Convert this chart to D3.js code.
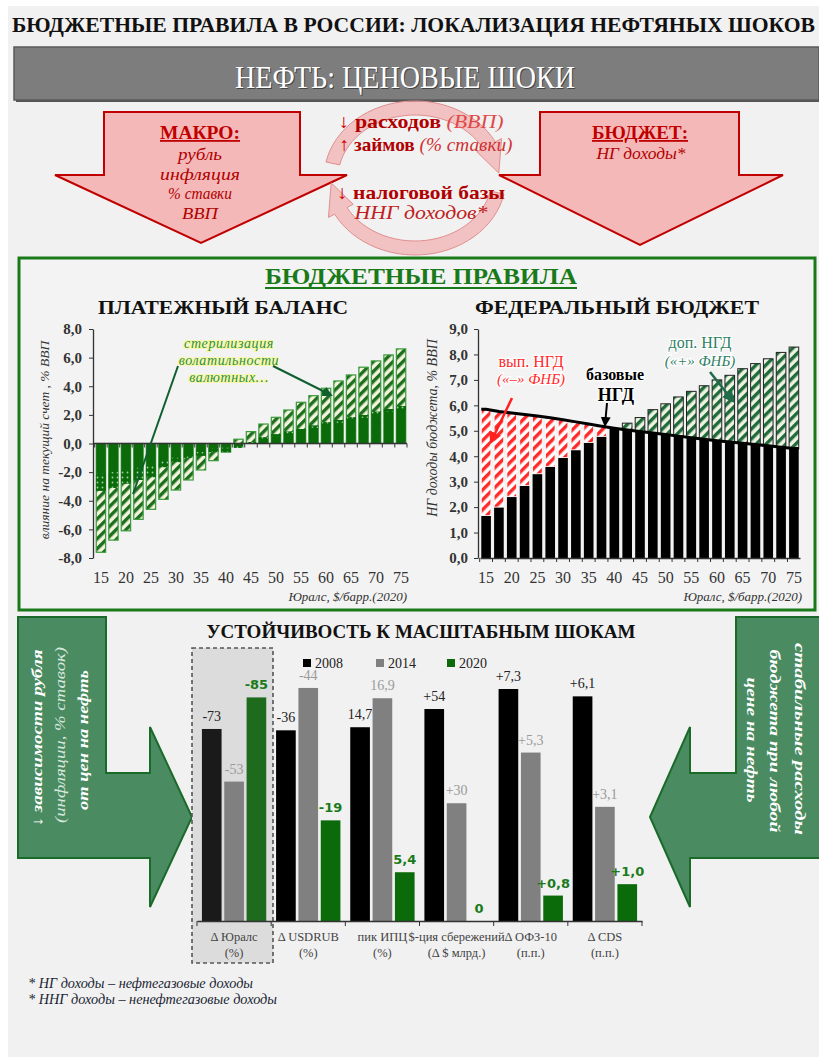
<!DOCTYPE html>
<html><head><meta charset="utf-8">
<script src="https://cdn.jsdelivr.net/npm/d3@7"></script>
<style>body{margin:0;background:#fff}svg{display:block}</style>
</head><body><svg id="c" width="819" height="1057"></svg>
<script>
// ---------------- DATA ----------------
const oilPrices = [15,17.5,20,22.5,25,27.5,30,32.5,35,37.5,40,42.5,45,47.5,50,52.5,55,57.5,60,62.5,65,67.5,70,72.5,75];
const oilTickLabels = [15,20,25,30,35,40,45,50,55,60,65,70,75];
// Платежный баланс (% ВВП)
const bopTotal  = [-7.6,-6.75,-6.1,-5.3,-4.6,-3.9,-3.25,-2.55,-1.85,-1.2,-0.6,0.3,0.83,1.36,1.83,2.34,2.88,3.34,3.86,4.37,4.79,5.33,5.77,6.19,6.61];
const bopSolid  = [-3.3,-3.1,-2.8,-2.55,-2.35,-1.65,-1.3,-1.0,-0.85,-0.6,-0.6,-0.3,0.1,0.43,0.64,0.83,1.01,1.25,1.48,1.64,1.83,1.99,2.22,2.41,2.62];
const bopDotted = [-2.1,-2.0,-1.85,-1.7,-1.5,-1.2,-1.0,-0.75,-0.6,-0.35,-0.3,0,0,0.3,0.5,0.7,0.9,1.1,1.3,1.45,1.65,1.8,2.0,2.2,2.35];
const bopTicks = [-8,-6,-4,-2,0,2,4,6,8];
// Федеральный бюджет (НГ доходы, % ВВП)
const budgetLine   = [5.85,5.76,5.70,5.64,5.58,5.51,5.43,5.35,5.27,5.18,5.10,5.03,4.97,4.91,4.85,4.79,4.73,4.67,4.61,4.56,4.51,4.46,4.41,4.35,4.30];
const budgetBase   = [1.67,2.00,2.41,2.85,3.31,3.60,3.95,4.25,4.54,4.78,5.10,5.03,4.97,4.91,4.85,4.79,4.73,4.67,4.61,4.56,4.51,4.46,4.41,4.35,4.30];
const budgetTotal  = [5.85,5.76,5.70,5.64,5.58,5.51,5.43,5.35,5.27,5.18,5.10,5.30,5.52,5.83,6.06,6.33,6.55,6.77,7.00,7.18,7.44,7.64,7.83,8.08,8.29];
const budgetTicks = [0,1,2,3,4,5,6,7,8,9];
// Устойчивость к масштабным шокам
const shockCategories = ["Δ Юралс","Δ USDRUB","пик ИПЦ","$-ция сбережений","Δ ОФЗ-10","Δ CDS"];
const shockUnits = ["(%)","(%)","(%)","(Δ $ млрд.)","(п.п.)","(п.п.)"];
const shockYears = ["2008","2014","2020"];
const shock2008 = [73,36,14.7,54,7.3,6.1];
const shock2014 = [53,44,16.9,30,5.3,3.1];
const shock2020 = [85,19,3.7,0,0.8,1.0];
const label2008 = ["-73","-36","14,7","+54","+7,3","+6,1"];
const label2014 = ["-53","-44","16,9","+30","+5,3","+3,1"];
const label2020 = ["-85","-19","5,4","0","+0,8","+1,0"];
const shockScaleMax = [88.2,43.8,17.6,59.1,7.3,6.3];

// ---------------- SETUP ----------------
const SERIF = "Liberation Serif";
const svg = d3.select("#c");
const defs = svg.append("defs");
function stripePattern(id, bg, fg, size, w){
  const p = defs.append("pattern").attr("id",id).attr("patternUnits","userSpaceOnUse")
    .attr("width",size).attr("height",size).attr("patternTransform","rotate(45)");
  p.append("rect").attr("width",size).attr("height",size).attr("fill",bg);
  p.append("rect").attr("width",w).attr("height",size).attr("fill",fg);
}
stripePattern("hG","#f3f3de","#1d6e1d",7,3.4);
stripePattern("hR","#ffffff","#ff2a2a",7,3.4);
stripePattern("hG2","#eef2e2","#1f6b3a",7,3.4);
const dp = defs.append("pattern").attr("id","dots").attr("patternUnits","userSpaceOnUse").attr("width",5).attr("height",5);
dp.append("rect").attr("width",5).attr("height",5).attr("fill","#0b6b0b");
dp.append("circle").attr("cx",2.5).attr("cy",2.5).attr("r",0.9).attr("fill","#9fd09f");
function marker(id,color){
  defs.append("marker").attr("id",id).attr("viewBox","0 0 10 10").attr("refX",8).attr("refY",5)
   .attr("markerWidth",5).attr("markerHeight",5).attr("orient","auto")
   .append("path").attr("d","M0,0L10,5L0,10z").attr("fill",color);
}
marker("mG","#0f5f2f"); marker("mR","#ff2020"); marker("mK","#000"); marker("mT","#1f6b4a");

// background
svg.append("rect").attr("width",819).attr("height",1057).attr("fill","#fff");
svg.append("rect").attr("x",8).attr("y",6).attr("width",811).attr("height",1051).attr("fill","#f1f1f1");

// main title
svg.append("text").attr("x",12).attr("y",32).attr("font-family",SERIF).attr("font-weight","bold")
  .attr("font-size",21).attr("fill","#111").attr("textLength",803).attr("lengthAdjust","spacingAndGlyphs")
  .text("БЮДЖЕТНЫЕ ПРАВИЛА В РОССИИ: ЛОКАЛИЗАЦИЯ НЕФТЯНЫХ ШОКОВ");

// banner
svg.append("rect").attr("x",16).attr("y",49).attr("width",805).attr("height",53).attr("fill","#555");
svg.append("rect").attr("x",14).attr("y",47).attr("width",805).attr("height",53).attr("fill","#7d7d7d").attr("stroke","#5a5a5a").attr("stroke-width",1.5);
svg.append("text").attr("x",406).attr("y",89).attr("text-anchor","middle").attr("font-family",SERIF)
  .attr("font-size",31).attr("fill","#444").attr("textLength",340).attr("lengthAdjust","spacingAndGlyphs").text("НЕФТЬ: ЦЕНОВЫЕ ШОКИ");
svg.append("text").attr("x",405).attr("y",88).attr("text-anchor","middle").attr("font-family",SERIF)
  .attr("font-size",31).attr("fill","#fff").attr("textLength",340).attr("lengthAdjust","spacingAndGlyphs").text("НЕФТЬ: ЦЕНОВЫЕ ШОКИ");

// red arrows
const pinkFill = "#f5b8b8", darkRed = "#c00000";
svg.append("polygon").attr("points","104,112 300,112 300,175 347,175 201,243 55,175 104,175")
  .attr("fill",pinkFill).attr("stroke",darkRed).attr("stroke-width",2);
svg.append("polygon").attr("points","540,112 739,112 739,175 783,175 640,245 499,175 540,175")
  .attr("fill",pinkFill).attr("stroke",darkRed).attr("stroke-width",2);

// ring arrows
function ringArrow(cx,cy,rx,ry,a0,a1,w,hw,hl){
  const r = d=>d*Math.PI/180, pts=[];
  for(let i=0;i<=30;i++){const t=r(a0+(a1-a0)*i/30); pts.push([cx+(rx+w)*Math.cos(t), cy+(ry+w)*Math.sin(t)]);}
  const t1=r(a1), tt=r(a1+hl);
  pts.push([cx+(rx+hw)*Math.cos(t1), cy+(ry+hw)*Math.sin(t1)]);
  pts.push([cx+rx*Math.cos(tt), cy+ry*Math.sin(tt)]);
  pts.push([cx+(rx-hw)*Math.cos(t1), cy+(ry-hw)*Math.sin(t1)]);
  for(let i=30;i>=0;i--){const t=r(a0+(a1-a0)*i/30); pts.push([cx+(rx-w)*Math.cos(t), cy+(ry-w)*Math.sin(t)]);}
  svg.append("path").attr("d",d3.line()(pts)+"Z").attr("fill","#f2a9a9").attr("fill-opacity",0.65)
    .attr("stroke","#e08e8e").attr("stroke-width",1);
}
ringArrow(415,178,84,70,192,332,7,14,24);
ringArrow(415,178,84,70,12,152,7,14,24);

// center texts
function tline(x,y,parts,size,len){
  const t = svg.append("text").attr("x",x).attr("y",y).attr("text-anchor","middle").attr("font-family",SERIF).attr("font-size",size);
  if(len) t.attr("textLength",len).attr("lengthAdjust","spacingAndGlyphs");
  parts.forEach(p=>t.append("tspan").text(p[0]).attr("fill",p[1]).attr("font-weight",p[2]||"normal").attr("font-style",p[3]||"normal"));
  return t;
}
tline(421,128,[["↓","#d00000","bold"],[" расходов ","#b00000","bold"],["(ВВП)","#e04848","normal","italic"]],19,165);
tline(426,151,[["↑","#d00000","bold"],[" займов ","#b00000","bold"],["(% ставки)","#d03030","normal","italic"]],19,173);
tline(421,199,[["↓","#d00000","bold"],[" налоговой базы","#b00000","bold"]],19,168);
tline(421,219,[["ННГ доходов*","#c02020","normal","italic"]],19,133);

// MAKRO / BUDGET
svg.append("text").attr("x",200).attr("y",139).attr("text-anchor","middle").attr("font-family",SERIF)
  .attr("font-weight","bold").attr("font-size",18).attr("fill",darkRed).attr("text-decoration","underline")
  .attr("textLength",80).attr("lengthAdjust","spacingAndGlyphs").text("МАКРО:");
const macroItems = ["рубль","инфляция","% ставки","ВВП"], macroLen = [44,80,64,36];
macroItems.forEach((s,i)=>svg.append("text").attr("x",200).attr("y",160+i*19.5)
  .attr("text-anchor","middle").attr("font-family",SERIF).attr("font-style","italic").attr("font-size",16)
  .attr("textLength",macroLen[i]).attr("lengthAdjust","spacingAndGlyphs").attr("fill","#b00000").text(s));
svg.append("text").attr("x",640).attr("y",139).attr("text-anchor","middle").attr("font-family",SERIF)
  .attr("font-weight","bold").attr("font-size",18).attr("fill",darkRed).attr("text-decoration","underline")
  .attr("textLength",96).attr("lengthAdjust","spacingAndGlyphs").text("БЮДЖЕТ:");
svg.append("text").attr("x",641).attr("y",159).attr("text-anchor","middle").attr("font-family",SERIF)
  .attr("font-style","italic").attr("font-size",16).attr("textLength",89).attr("lengthAdjust","spacingAndGlyphs")
  .attr("fill","#b00000").text("НГ доходы*");

// ---------------- GREEN BOX ----------------
svg.append("rect").attr("x",19).attr("y",258).attr("width",796).attr("height",352).attr("fill","#f3f3f3")
  .attr("stroke","#1a7a1a").attr("stroke-width",3);
svg.append("text").attr("x",421).attr("y",284).attr("text-anchor","middle").attr("font-family",SERIF)
  .attr("font-weight","bold").attr("font-size",23).attr("fill","#1a7a1a").attr("textLength",312)
  .attr("lengthAdjust","spacingAndGlyphs").text("БЮДЖЕТНЫЕ ПРАВИЛА");
svg.append("line").attr("x1",265).attr("x2",577).attr("y1",288).attr("y2",288).attr("stroke","#1a7a1a").attr("stroke-width",2);

const fmt = v => v.toFixed(1).replace(".",",");
function chartTitle(x,y,len,s){
  svg.append("text").attr("x",x).attr("y",y).attr("text-anchor","middle").attr("font-family",SERIF)
   .attr("font-weight","bold").attr("font-size",19).attr("fill","#111").attr("textLength",len)
   .attr("lengthAdjust","spacingAndGlyphs").text(s);
}
function styleAxis(g,bold,size){
  g.selectAll("text").attr("font-family",SERIF).attr("font-size",size).attr("fill","#333").attr("font-weight",bold?"bold":"normal");
  g.selectAll("line").attr("stroke","#333");
  g.select(".domain").attr("stroke","#333").attr("stroke-width",1.3);
}

// ---------------- LEFT CHART ----------------
chartTitle(223,314,250,"ПЛАТЕЖНЫЙ БАЛАНС");
const xL = d3.scaleBand().domain(oilPrices).range([95,407]).paddingInner(0.25).paddingOuter(0.1);
const yL = d3.scaleLinear().domain([-8,8]).range([558,329]);
const gL = svg.append("g");
const rectV = (sel,x,bw,ys,a,b)=>sel.append("rect").attr("x",x).attr("width",bw)
   .attr("y",Math.min(ys(a),ys(b))).attr("height",Math.abs(ys(a)-ys(b)));
oilPrices.forEach((d,i)=>{
  const x = xL(d), bw = xL.bandwidth();
  rectV(gL,x,bw,yL,0,bopTotal[i]).attr("fill","url(#hG)").attr("stroke","#3a9a3a").attr("stroke-width",1.2);
  rectV(gL,x,bw,yL,0,bopSolid[i]).attr("fill","#0b6b0b");
  if(bopDotted[i]!==bopSolid[i]) rectV(gL,x,bw,yL,bopDotted[i],bopSolid[i]).attr("fill","url(#dots)");
});
// zero axis
gL.append("line").attr("x1",93).attr("x2",407).attr("y1",yL(0)).attr("y2",yL(0)).attr("stroke","#333").attr("stroke-width",1.5);
oilPrices.forEach(d=>{const xx = xL(d)-xL.step()*xL.paddingInner()/2;
  gL.append("line").attr("x1",xx).attr("x2",xx).attr("y1",yL(0)).attr("y2",yL(0)+4).attr("stroke","#333");});
gL.append("line").attr("x1",407).attr("x2",407).attr("y1",yL(0)).attr("y2",yL(0)+4).attr("stroke","#333");
const axL = svg.append("g").attr("transform","translate(93,0)")
  .call(d3.axisLeft(yL).tickValues(bopTicks).tickSize(4).tickSizeOuter(0).tickPadding(7).tickFormat(fmt));
styleAxis(axL,true,15);
const axLB = svg.append("g").attr("transform","translate(0,572)")
  .call(d3.axisBottom(xL).tickValues(oilTickLabels).tickSize(0).tickPadding(0));
axLB.select(".domain").remove(); styleAxis(axLB,false,16);
svg.append("text").attr("x",407).attr("y",601).attr("text-anchor","end").attr("font-family",SERIF)
  .attr("font-style","italic").attr("font-size",13).attr("fill","#333").text("Юралс, $/барр.(2020)");
svg.append("text").attr("transform","translate(49,440) rotate(-90)").attr("text-anchor","middle").attr("font-family",SERIF)
  .attr("font-style","italic").attr("font-size",13.5).attr("fill","#333").text("влияние на текущий счет , % ВВП");
// annotation
["стерилизация","волатильности","валютных…"].forEach((s,i)=>svg.append("text").attr("x",229).attr("y",348+i*17)
  .attr("text-anchor","middle").attr("font-family",SERIF).attr("font-style","italic").attr("font-size",14)
  .attr("letter-spacing",0.6).attr("fill","#2f8f4f").attr("stroke","#f8f8a0").attr("stroke-width",2.2)
  .attr("paint-order","stroke").text(s));
svg.append("line").attr("x1",178).attr("y1",366).attr("x2",133).attr("y2",494).attr("stroke","#0f5f2f").attr("stroke-width",2);
svg.append("line").attr("x1",273).attr("y1",366).attr("x2",331).attr("y2",395).attr("stroke","#0f5f2f").attr("stroke-width",2).attr("marker-end","url(#mG)");

// ---------------- RIGHT CHART ----------------
chartTitle(617,314,284,"ФЕДЕРАЛЬНЫЙ БЮДЖЕТ");
const xR = d3.scaleBand().domain(oilPrices).range([480,800]).paddingInner(0.25).paddingOuter(0.1);
const yR = d3.scaleLinear().domain([0,9]).range([558,329]);
const gR = svg.append("g");
oilPrices.forEach((d,i)=>{
  const x = xR(d), bw = xR.bandwidth();
  rectV(gR,x,bw,yR,0,budgetBase[i]).attr("fill","#000");
  if(budgetLine[i]>budgetBase[i]) rectV(gR,x,bw,yR,budgetBase[i],budgetLine[i]).attr("fill","url(#hR)").attr("stroke","#fff").attr("stroke-width",0.8);
  if(budgetTotal[i]>budgetLine[i]) rectV(gR,x,bw,yR,budgetLine[i],budgetTotal[i]).attr("fill","url(#hG2)").attr("stroke","#222").attr("stroke-width",1);
});
const linePts = oilPrices.map((d,i)=>[xR(d)+xR.bandwidth()/2, yR(budgetLine[i])]);
linePts.unshift([xR(oilPrices[0]), yR(budgetLine[0])]);
linePts.push([xR(oilPrices[oilPrices.length-1])+xR.bandwidth(), yR(budgetLine[budgetLine.length-1])]);
gR.append("path").attr("d",d3.line()(linePts)).attr("fill","none").attr("stroke","#000").attr("stroke-width",3);
const axRB0 = svg.append("g").attr("transform","translate(0,558)")
  .call(d3.axisBottom(xR).tickValues([]).tickSizeOuter(0));
styleAxis(axRB0,false,15);
oilPrices.forEach(d=>{const xx = xR(d)-xR.step()*xR.paddingInner()/2;
  gR.append("line").attr("x1",xx).attr("x2",xx).attr("y1",558).attr("y2",562).attr("stroke","#333");});
const axR = svg.append("g").attr("transform","translate(478,0)")
  .call(d3.axisLeft(yR).tickValues(budgetTicks).tickSize(4).tickSizeOuter(0).tickPadding(6).tickFormat(fmt));
styleAxis(axR,true,15);
const axRB = svg.append("g").attr("transform","translate(0,572)")
  .call(d3.axisBottom(xR).tickValues(oilTickLabels).tickSize(0).tickPadding(0));
axRB.select(".domain").remove(); styleAxis(axRB,false,16);
svg.append("text").attr("x",802).attr("y",601).attr("text-anchor","end").attr("font-family",SERIF)
  .attr("font-style","italic").attr("font-size",13).attr("fill","#333").text("Юралс, $/барр.(2020)");
svg.append("text").attr("transform","translate(437,428) rotate(-90)").attr("text-anchor","middle").attr("font-family",SERIF)
  .attr("font-style","italic").attr("font-size",14).attr("fill","#333").text("НГ доходы бюджета, % ВВП");
// annotations
const halo = s=>s.attr("stroke","#fff").attr("stroke-width",2.5).attr("paint-order","stroke");
halo(tline(531,367,[["вып. ","#ff2a2a","normal"],["НГД","#ff2a2a","normal"]],16));
halo(tline(531,384,[["(«–» ФНБ)","#ff2a2a","normal","italic"]],15));
svg.append("line").attr("x1",512).attr("y1",398).attr("x2",491).attr("y2",442).attr("stroke","#ff2020").attr("stroke-width",2.5).attr("marker-end","url(#mR)");
halo(tline(615,380,[["базовые","#000","bold"]],16));
halo(tline(616,401,[["НГД","#000","bold"]],18));
svg.append("line").attr("x1",607).attr("y1",403).attr("x2",605).attr("y2",425).attr("stroke","#000").attr("stroke-width",2).attr("marker-end","url(#mK)");
halo(tline(700,348,[["доп. ","#2e8062","normal"],["НГД","#2e8062","normal"]],16));
halo(tline(700,366,[["(«+» ФНБ)","#2e8062","normal","italic"]],15));
svg.append("line").attr("x1",710).attr("y1",372).attr("x2",733).attr("y2",401).attr("stroke","#1f6b4a").attr("stroke-width",2.5).attr("marker-end","url(#mT)");

// ---------------- BOTTOM ----------------
const arrowFill = "#4b8b62", arrowStroke = "#1a6b2a";
svg.append("polygon").attr("points","18,617 106,617 106,773 150,773 150,727 192,817 150,907 150,858 18,858")
  .attr("fill",arrowFill).attr("stroke",arrowStroke).attr("stroke-width",2);
svg.append("polygon").attr("points","736,617 830,617 830,858 690,858 690,907 650,817 690,727 690,773 736,773")
  .attr("fill",arrowFill).attr("stroke",arrowStroke).attr("stroke-width",2);
function rotText(x,y,rot,s,len,opts){
  svg.append("text").attr("transform",`translate(${x},${y}) rotate(${rot})`).attr("text-anchor","middle")
   .attr("font-family",SERIF).attr("font-size",opts.size).attr("font-style","italic")
   .attr("font-weight",opts.bold?"bold":"normal").attr("fill",opts.fill).attr("textLength",len)
   .attr("lengthAdjust","spacingAndGlyphs").text(s);
}
rotText(42,738,-90,"↓ зависимости рубля",177,{size:15,bold:true,fill:"#fff"});
rotText(65,735,-90,"(инфляции, % ставок)",176,{size:14,bold:false,fill:"#d8e8dc"});
rotText(88,740,-90,"от цен на нефть",140,{size:15,bold:true,fill:"#fff"});
rotText(795,739,90,"стабильные расходы",192,{size:15,bold:true,fill:"#fff"});
rotText(770,741,90,"бюджета при любой",183,{size:15,bold:true,fill:"#fff"});
rotText(747,740,90,"цене на нефть",125,{size:15,bold:true,fill:"#fff"});

chartTitle(421,638,429,"УСТОЙЧИВОСТЬ К МАСШТАБНЫМ ШОКАМ");
// dashed box
svg.append("rect").attr("x",192).attr("y",648).attr("width",81).attr("height",315).attr("fill","#dcdcdc")
  .attr("stroke","#555").attr("stroke-width",1.6).attr("stroke-dasharray","4,3");
// legend
const yearColors = ["#000","#808080","#0b6b0b"];
const legX = [303,376,447];
shockYears.forEach((y,i)=>{
  svg.append("rect").attr("x",legX[i]).attr("y",659).attr("width",8).attr("height",8).attr("fill",yearColors[i]);
  svg.append("text").attr("x",legX[i]+12).attr("y",668).attr("font-family",SERIF).attr("font-size",14).attr("fill","#222").text(y);
});
const xG = d3.scaleBand().domain(shockCategories).range([197,642]);
const xY = d3.scaleBand().domain(shockYears).range([0,xG.bandwidth()]).paddingInner(0.12).paddingOuter(0.22);
const series = [shock2008, shock2014, shock2020];
const labels = [label2008, label2014, label2020];
const labelStyle = [
  {fill:"#222", weight:"normal", fam:SERIF, size:14},
  {fill:"#9a9a9a", weight:"normal", fam:SERIF, size:14},
  {fill:"#1a7a1a", weight:"bold", fam:"DejaVu Sans", size:13}];
shockCategories.forEach((c,gi)=>{
  const yS = d3.scaleLinear().domain([0,shockScaleMax[gi]]).range([921,689]);
  shockYears.forEach((yr,si)=>{
    const v = series[si][gi], x = xG(c)+xY(yr), bw = xY.bandwidth();
    const col = (gi===0 && si===0) ? "#1a1a1a" : (gi===0 && si===2 ? "#1e6b1e" : yearColors[si]);
    svg.append("rect").attr("x",x).attr("width",bw).attr("y",yS(v)).attr("height",921-yS(v)).attr("fill",col);
    const st = labelStyle[si];
    svg.append("text").attr("x",x+bw/2).attr("y",yS(v)-8).attr("text-anchor","middle")
      .attr("font-family",st.fam).attr("font-weight",st.weight).attr("font-size",st.size).attr("fill",st.fill)
      .text(labels[si][gi]);
  });
  svg.append("text").attr("x",xG(c)+xG.bandwidth()/2).attr("y",941).attr("text-anchor","middle")
    .attr("font-family",SERIF).attr("font-size",12.5).attr("fill","#444").text(c);
  svg.append("text").attr("x",xG(c)+xG.bandwidth()/2).attr("y",957).attr("text-anchor","middle")
    .attr("font-family",SERIF).attr("font-size",12.5).attr("fill","#444").text(shockUnits[gi]);
});
const axG = svg.append("g").attr("transform","translate(0,921)")
  .call(d3.axisBottom(xG).tickValues([]).tickSizeOuter(0));
axG.select(".domain").attr("stroke","#333").attr("stroke-width",1.3);
shockCategories.concat(["end"]).forEach((c,i)=>{const xx = 197 + i*xG.step();
  svg.append("line").attr("x1",xx).attr("x2",xx).attr("y1",921).attr("y2",926).attr("stroke","#333");});

// footnotes
const footnotes = ["* НГ доходы – нефтегазовые доходы","* ННГ доходы – ненефтегазовые доходы"], footLen = [225,249];
footnotes.forEach((s,i)=>
  svg.append("text").attr("x",28).attr("y",988+i*16).attr("font-family",SERIF).attr("font-style","italic")
   .attr("font-size",14).attr("textLength",footLen[i]).attr("lengthAdjust","spacingAndGlyphs")
   .attr("fill","#1a1f33").text(s));
</script></body></html>
